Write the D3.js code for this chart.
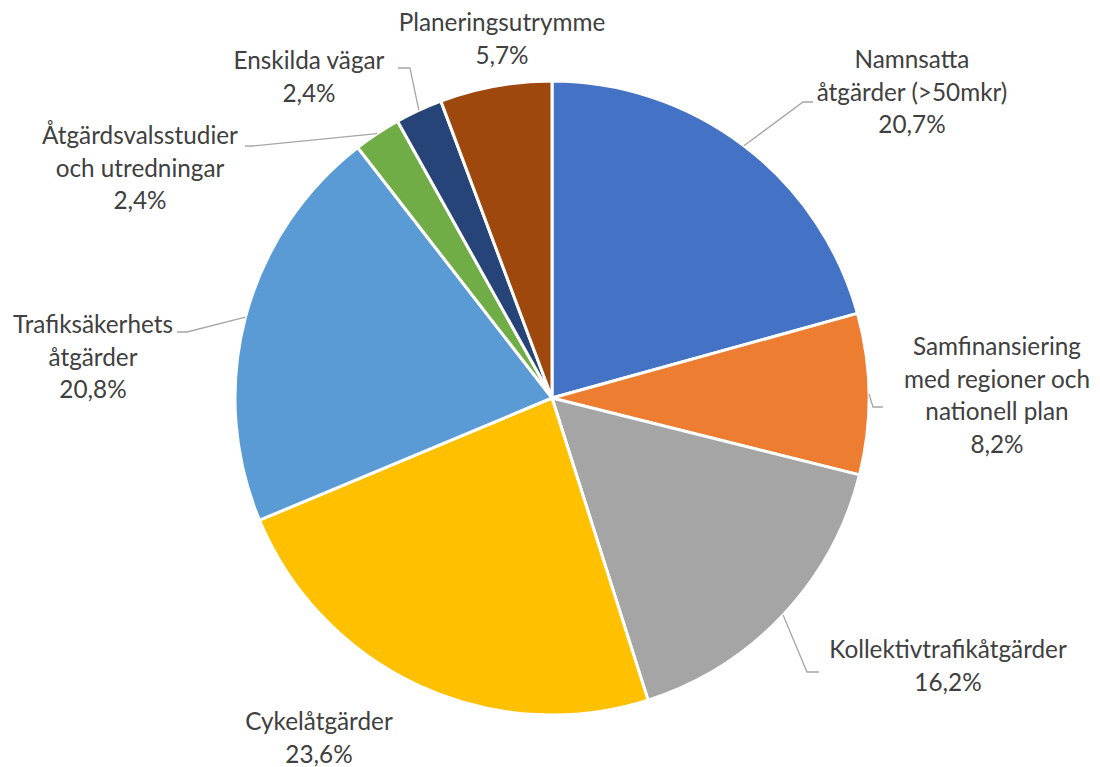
<!DOCTYPE html>
<html>
<head>
<meta charset="utf-8">
<script src="https://cdn.jsdelivr.net/npm/d3@7"></script>
<style>
  body { margin: 0; background: #fff; }
  svg { display: block; }
  .lbl { font-family: Lato, "Liberation Sans", sans-serif; font-size: 24.3px; fill: #404040; }
</style>
</head>
<body>
<div id="chart"></div>
<script>
// data
const categories = [
    "Namnsatta\nåtgärder (>50mkr)",
    "Samfinansiering\nmed regioner och\nnationell plan",
    "Kollektivtrafikåtgärder",
    "Cykelåtgärder",
    "Trafiksäkerhets\nåtgärder",
    "Åtgärdsvalsstudier\noch utredningar",
    "Enskilda vägar",
    "Planeringsutrymme"
];
const values = [20.7, 8.2, 16.2, 23.6, 20.8, 2.4, 2.4, 5.7];
const colors = ["#4472C4", "#ED7D31", "#A5A5A5", "#FFC000", "#5B9BD5", "#70AD47", "#264478", "#9E480E"];

// label placement (center x, first line center y, leader elbow + end or null)
const labelLayout = [
    { x: 912, y: 60,  leader: [[803, 102], [813, 102]] },
    { x: 997, y: 347, leader: [[873, 407], [883, 407]] },
    { x: 948, y: 650, leader: [[807, 672], [819, 672]] },
    { x: 319, y: 722, leader: null },
    { x: 93,  y: 325, leader: [[187, 332], [177, 332]] },
    { x: 140, y: 136, leader: [[253, 146], [245, 146]] },
    { x: 309, y: 61,  leader: [[410, 68], [398, 68]] },
    { x: 502, y: 23,  leader: null }
];

const W = 1100, H = 767;
const cx = 552, cy = 398, R = 317;
const lineH = 32.5;

const svg = d3.select("#chart")
    .append("svg")
    .attr("width", W)
    .attr("height", H);

const data = values.map((v, i) => ({ name: categories[i], value: v, color: colors[i], layout: labelLayout[i] }));

const pie = d3.pie()
    .value(d => d.value)
    .sort(null);

const arc = d3.arc()
    .innerRadius(0)
    .outerRadius(R);

const arcs = pie(data);

const g = svg.append("g")
    .attr("transform", `translate(${cx},${cy})`);

g.selectAll("path.slice")
    .data(arcs)
    .enter().append("path")
    .classed("slice", true)
    .attr("d", arc)
    .attr("fill", d => d.data.color)
    .attr("stroke", "#fff")
    .attr("stroke-width", 3)
    .attr("stroke-linejoin", "round");

// leader lines, starting on the rim at the slice mid angle
const line = d3.line();
svg.selectAll("path.leader")
    .data(arcs.filter(d => d.data.layout.leader))
    .enter().append("path")
    .classed("leader", true)
    .attr("d", d => {
        const a = (d.startAngle + d.endAngle) / 2;
        const start = [cx + Math.sin(a) * R, cy - Math.cos(a) * R];
        return line([start, ...d.data.layout.leader]);
    })
    .attr("fill", "none")
    .attr("stroke", "#A6A6A6")
    .attr("stroke-width", 1.3);

const fmt = v => v.toFixed(1).replace(".", ",") + "%";

const labels = svg.selectAll("text.lbl")
    .data(data)
    .enter().append("text")
    .classed("lbl", true)
    .attr("text-anchor", "middle");

labels.each(function (d) {
    const lines = d.name.split("\n").concat([fmt(d.value)]);
    const t = d3.select(this);
    lines.forEach((s, i) => {
        t.append("tspan")
            .attr("x", d.layout.x)
            .attr("y", d.layout.y + i * lineH + 8)
            .text(s);
    });
});
</script>
</body>
</html>
